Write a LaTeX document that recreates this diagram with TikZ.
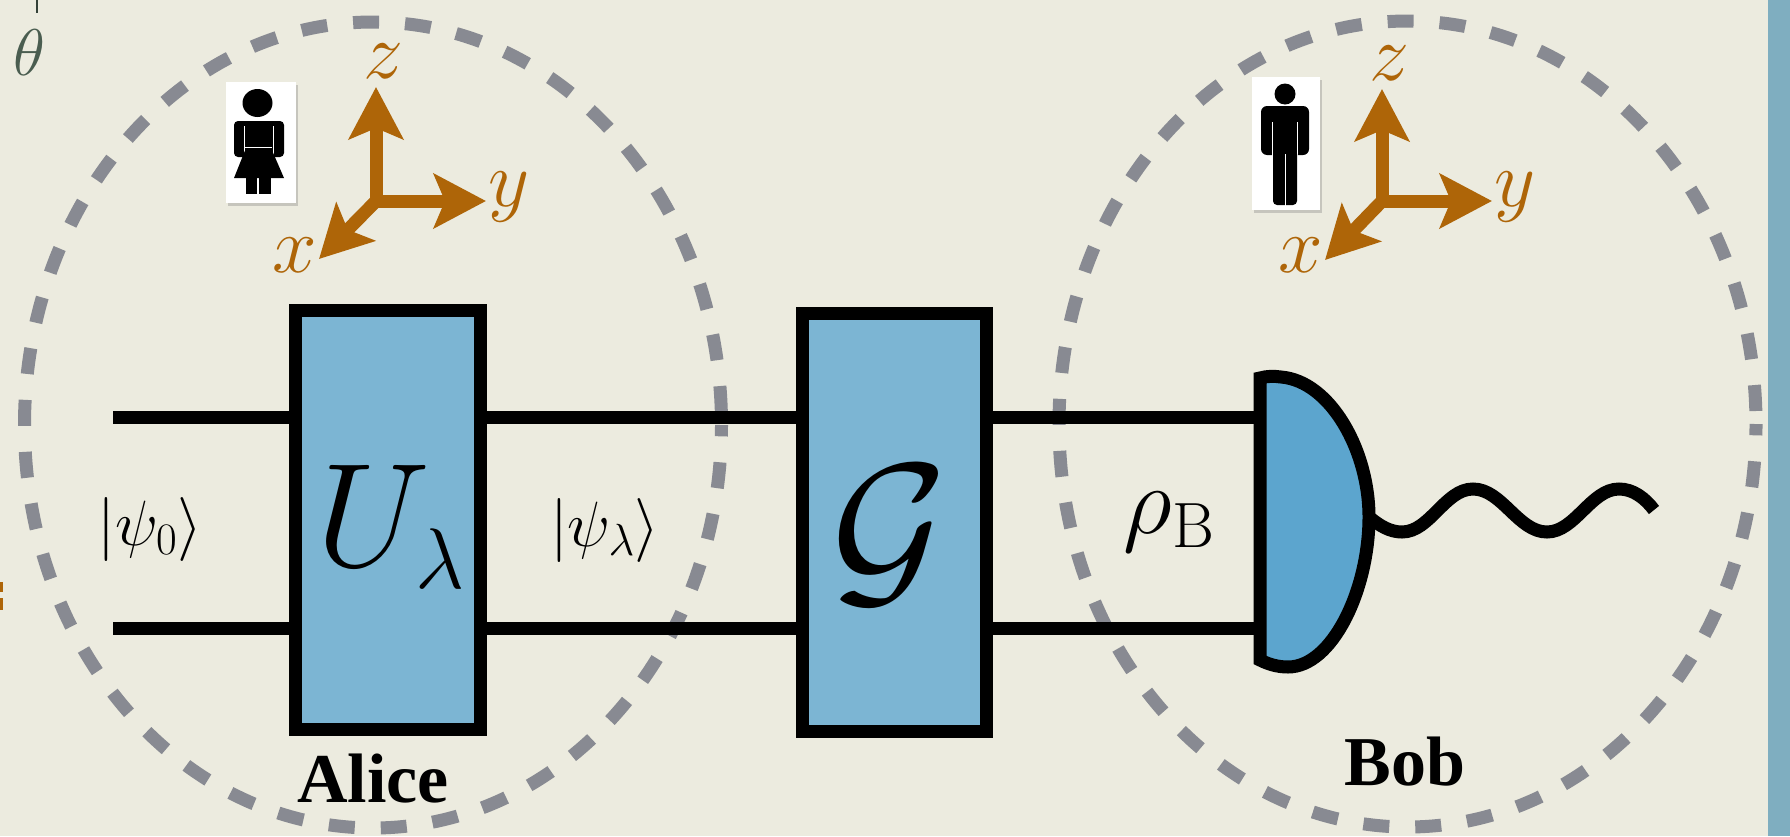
\documentclass[tikz,border=0pt]{standalone}
\usepackage{fix-cm}
\usepackage[no-math]{fontspec}
\usepackage{amsmath}
\newfontfamily\namefont{Liberation Serif}
\usetikzlibrary{shapes.geometric,arrows.meta,positioning,shadows}
\definecolor{paper}{HTML}{ECEBDF}
\definecolor{strip}{HTML}{7FAEC0}
\definecolor{gatefill}{HTML}{7CB5D3}
\definecolor{detfill}{HTML}{5CA5CE}
\definecolor{ringgray}{HTML}{888A92}
\definecolor{axisorange}{HTML}{AE6508}
\definecolor{thetagreen}{HTML}{4A5D50}
\newcommand{\fsz}[1]{\fontsize{#1}{#1}\selectfont}
\DeclareMathSizes{148}{148}{86}{60}
\DeclareMathSizes{96}{96}{64}{48}
\DeclareMathSizes{64}{64}{45}{32}

\begin{document}
\begin{tikzpicture}[
  x=1pt, y=-1pt,
  ring/.style={ellipse, draw=ringgray, line width=13pt, dash pattern=on 26pt off 26pt, dash phase=39pt,
               minimum width=697pt, minimum height=806pt, inner sep=0pt},
  gate/.style={rectangle, draw=black, fill=gatefill, line width=13pt,
               minimum width=185pt, minimum height=419pt, inner sep=0pt},
  wire/.style={draw=black, line width=13pt},
  axarrow/.style={draw=axisorange, line width=13pt,
               -{Stealth[length=52pt,width=54pt,inset=11pt]}},
  axl/.style={text=axisorange, inner sep=0pt, font=\fsz{80}},
  card/.style={rectangle, fill=white, inner sep=0pt,
               drop shadow={shadow xshift=2pt, shadow yshift=-3pt, opacity=.35}},
  statelabel/.style={inner sep=0pt, font=\fsz{64}},
  namelabel/.style={anchor=base, inner sep=0pt, font=\namefont\bfseries\fsz{70}},
  cut/.style={draw=white, line width=.9pt},
]
\useasboundingbox (0,0) rectangle (1790,836);
\fill[paper] (0,0) rectangle (1790,836);
\fill[strip] (1768,0) rectangle (1790,836);

\node[ring] (alicering) at (373,425) {};
\node[ring] (bobring)   at (1407.5,424) {};

\node[gate] (ubox) at (388,520) {};
\node[gate, minimum width=184pt, minimum height=418pt, right=309pt of ubox, yshift=-2.5pt] (gbox) {};
\node[inner sep=0pt, font=\fsz{148}] (ulabel) at (391,527) {$U_\lambda$};
\node[inner sep=0pt, font=\fsz{178}] (glabel) at (890,535) {$\mathcal{G}$};

\coordinate (intop) at (113,417);
\coordinate (inbot) at (113,628);
\coordinate (detl)  at (1260,520);
\coordinate (detr)  at (1369,517);

\draw[wire] (intop) -- (ubox.west |- intop);
\draw[wire] (inbot) -- (ubox.west |- inbot);
\draw[wire] (ubox.east |- intop) -- (gbox.west |- intop);
\draw[wire] (ubox.east |- inbot) -- (gbox.west |- inbot);
\draw[wire] (gbox.east |- intop) -- (detl |- intop);
\draw[wire] (gbox.east |- inbot) -- (detl |- inbot);

\draw[wire, fill=detfill] (1260,378) .. controls (1267,376) and (1274,376) .. (1281,377)
  .. controls (1330,381) and (1369,450) .. (detr)
  .. controls (1369,590) and (1332,667) .. (1288,667)
  .. controls (1277,667) and (1268,664) .. (1260,660) -- cycle;
\draw[wire] (detr) .. controls (1380,526) and (1390,532) .. (1402,532)
  .. controls (1430,532) and (1445,489) .. (1473,489)
  .. controls (1502,489) and (1518,532) .. (1547,532)
  .. controls (1575,532) and (1591,489) .. (1619,489)
  .. controls (1633,489) and (1645,498) .. (1654,510);

\node[statelabel] (psi0) at (150,529) {$|\psi_0\rangle$};
\node[statelabel] (psil) at (605,530) {$|\psi_\lambda\rangle$};
\node[inner sep=0pt, font=\fsz{96}] (rhob) at (1169,522) {$\rho_{\mathrm{B}}$};

\node[namelabel] (alice) at (373,802) {Alice};
\node[namelabel] (bob)   at (1405,785) {Bob};

\coordinate (ao) at (376,201);
\draw[axarrow] (ao) ++(0,6) -- (376,87);
\draw[axarrow] (ao) ++(-6,0) -- (486,201);
\draw[axarrow] (ao) ++(4,-4) -- (319,259);
\node[axl] (az) at (383,61) {$z$};
\node[axl] (ay) at (509,197) {$y$};
\node[axl] (ax) at (295,255) {$x$};

\coordinate (bo) at (1382,201);
\draw[axarrow] (bo) ++(0,6) -- (1382,89);
\draw[axarrow] (bo) ++(-6,0) -- (1492,201);
\draw[axarrow] (bo) ++(4,-4) -- (1325,260);
\node[axl] (bz) at (1389,63) {$z$};
\node[axl] (by) at (1515,197) {$y$};
\node[axl] (bx) at (1301,255) {$x$};

\node[card, minimum width=70pt, minimum height=121pt] (acard) at (261,142.5) {};
\fill (257.5,103) ellipse (15 and 14);
\fill[rounded corners=4pt] (234,121) rectangle (284,157);
\draw[cut] (244.5,126) -- (244.5,158);
\draw[cut] (273.5,126) -- (273.5,158);
\fill (246,148) -- (271,148) -- (284,178) -- (234,178) -- cycle;
\draw[cut] (245,147) -- (272,147);
\fill (246,178) rectangle (257,194);
\fill (259,178) rectangle (271,194);

\node[card, minimum width=68pt, minimum height=133pt] (bcard) at (1286,143.5) {};
\fill (1285,94) circle (10.5);
\fill[rounded corners=6pt] (1261,106) rectangle (1309,155);
\draw[cut] (1272.5,122) -- (1272.5,156);
\draw[cut] (1297.5,122) -- (1297.5,156);
\fill[rounded corners=4pt] (1273,150) rectangle (1297,205);
\draw[cut] (1285,154) -- (1285,206);

\node[inner sep=0pt, text=thetagreen, font=\fsz{66}] (theta) at (29,53) {$\theta$};
\draw[thetagreen!70!black, line width=1.5pt] (37,0) -- (37,13);
\fill[axisorange] (0,582) rectangle (3,592);
\fill[axisorange] (0,598) rectangle (3,610);

\end{tikzpicture}
\end{document}
